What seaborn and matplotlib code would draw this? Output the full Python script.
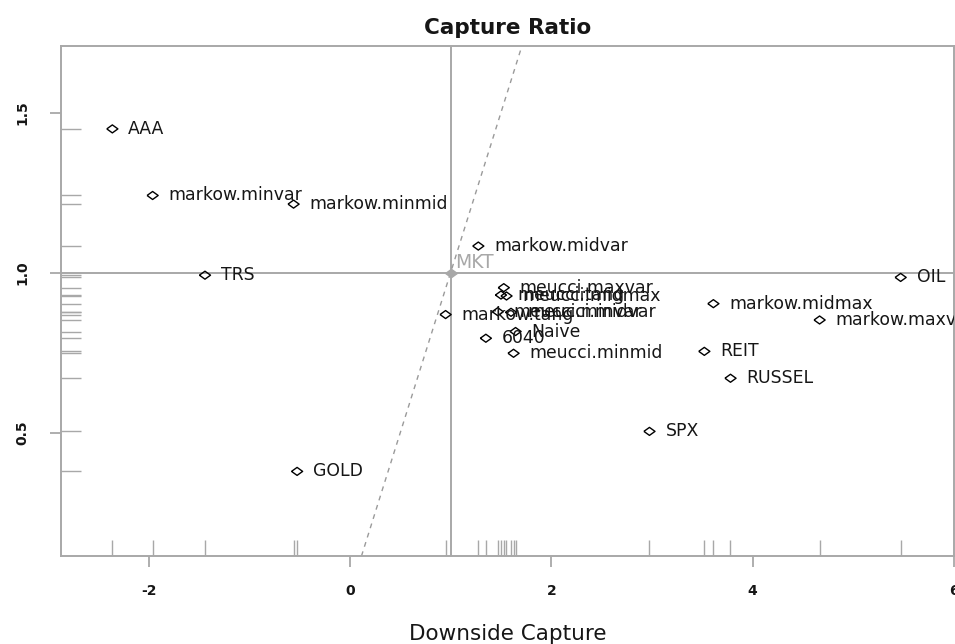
import numpy as np
import pandas as pd
import matplotlib
matplotlib.use("Agg")
import matplotlib.pyplot as plt
import seaborn as sns

# Portfolio / asset capture ratios
names = ["AAA", "TRS", "GOLD", "OIL", "REIT", "RUSSEL", "SPX",
         "markow.minvar", "markow.minmid", "markow.midvar", "markow.tang",
         "markow.midmax", "markow.maxvar",
         "meucci.minvar", "meucci.minmid", "meucci.midvar", "meucci.tang",
         "meucci.midmax", "meucci.maxvar", "Naive", "6040"]
downside_capture = [-2.36, -1.44, -0.525, 5.47, 3.52, 3.78, 2.975,
                    -1.96, -0.56, 1.275, 0.95, 3.61, 4.665,
                    1.468, 1.625, 1.60, 1.50, 1.555, 1.528, 1.645, 1.35]
upside_capture = [1.449, 0.992, 0.379, 0.985, 0.754, 0.670, 0.504,
                  1.241, 1.214, 1.083, 0.869, 0.903, 0.852,
                  0.878, 0.748, 0.876, 0.930, 0.927, 0.953, 0.816, 0.795]

# Market reference point
mkt_name = "MKT"
mkt_down = 1.0
mkt_up = 1.0

x_ticks = [-2, 0, 2, 4, 6]
y_ticks = [0.5, 1.0, 1.5]

df = pd.DataFrame({"name": names, "down": downside_capture, "up": upside_capture})

sns.set_theme(style="white")
plt.rcParams["font.family"] = ["DejaVu Sans"]

W, H = 955, 644
fig = plt.figure(figsize=(W / 100, H / 100), dpi=100)
ax_left, ax_right, ax_top, ax_bottom = 61, 954, 46, 556
ax = fig.add_axes([ax_left / W, 1 - ax_bottom / H,
                   (ax_right - ax_left) / W, (ax_bottom - ax_top) / H])

grey = "#a8a8a8"
ink = "#161616"

ax.set_xlim(-2.87, 6.0)
ax.set_ylim(0.1147, 1.708)

# reference lines through the market point and the y = x diagonal
ax.axvline(mkt_down, color=grey, lw=1.4, zorder=1)
ax.axhline(mkt_up, color=grey, lw=1.4, zorder=1)
ax.axline((0, 0), slope=1, color="#9a9a9a", lw=1.0, ls=(0, (3.5, 3.5)), zorder=1)

# rugs on both axes
sns.rugplot(data=df, x="down", height=0.031, color=grey, lw=1.3, ax=ax)
sns.rugplot(data=df, y="up", height=0.022, color=grey, lw=1.3, ax=ax)

# open diamond markers (slightly wider than tall)
diamond = [(-1.0, 0.0), (0.0, 0.72), (1.0, 0.0), (0.0, -0.72), (-1.0, 0.0)]
sns.scatterplot(data=df, x="down", y="up", marker=diamond, s=64,
                facecolor="none", edgecolor="black", linewidth=1.0,
                ax=ax, zorder=3, legend=False)
ax.scatter([mkt_down], [mkt_up], marker=diamond, s=70, color=grey,
           edgecolor=grey, zorder=3)

for n, xv, yv in zip(names, downside_capture, upside_capture):
    ax.annotate(n, (xv, yv), xytext=(11.5, 0), textcoords="offset points",
                ha="left", va="center", fontsize=12.4, color=ink,
                clip_on=True)
ax.annotate(mkt_name, (mkt_down, mkt_up), xytext=(3.5, 7.5),
            textcoords="offset points", ha="left", va="center",
            fontsize=13.5, color=grey, clip_on=True)

# frame, ticks and labels
for sp in ax.spines.values():
    sp.set_color(grey)
    sp.set_linewidth(1.4)
ax.set_xticks(x_ticks)
ax.set_yticks(y_ticks)
ax.set_xticklabels([str(v) for v in x_ticks])
ax.set_yticklabels([f"{v:.1f}" for v in y_ticks])
ax.tick_params(axis="both", which="major", direction="out", length=8,
               width=1.3, color=grey, labelsize=10, labelcolor=ink)
ax.tick_params(axis="x", pad=12.5, bottom=True)
ax.tick_params(axis="y", pad=15, left=True, labelrotation=90)
for lab in ax.get_xticklabels() + ax.get_yticklabels():
    lab.set_fontweight("bold")
for lab in ax.get_yticklabels():
    lab.set_va("center")

ax.set_xlabel("Downside Capture", fontsize=15.5, color=ink, va="center")
ax.xaxis.set_label_coords(0.5, -(634 - ax_bottom) / (ax_bottom - ax_top))
ax.set_ylabel("")
ax.set_title("Capture Ratio", fontsize=15.5, fontweight="bold", color=ink, pad=9)

fig.savefig("out.png", dpi=100, facecolor="white")
